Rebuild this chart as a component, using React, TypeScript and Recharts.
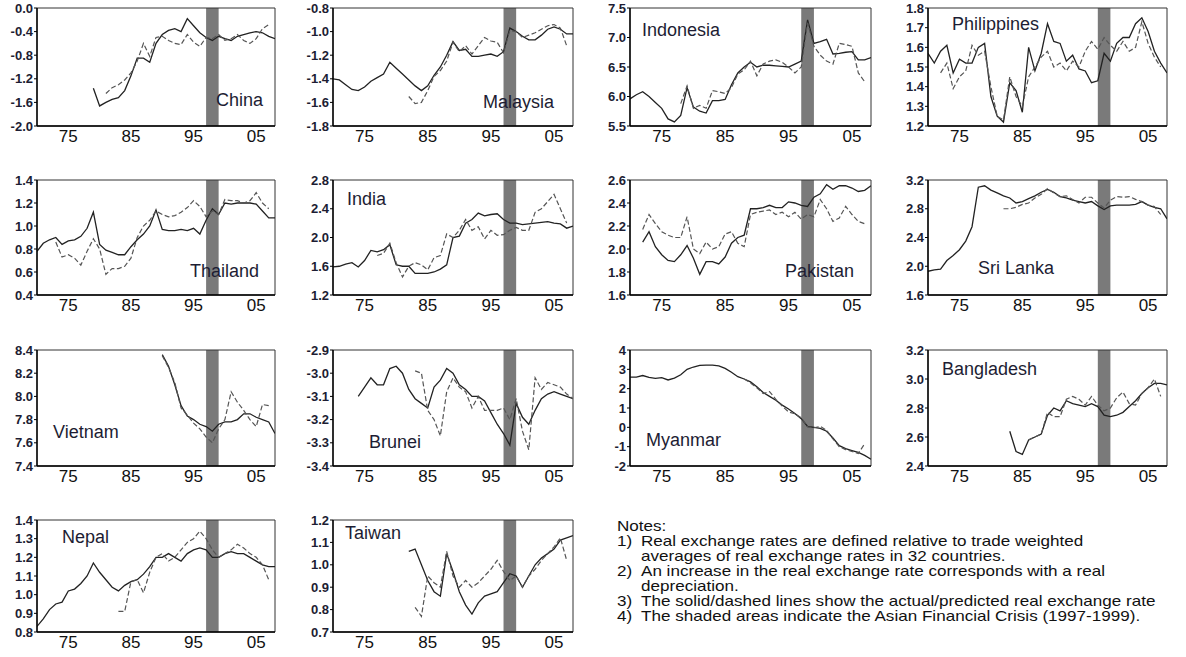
import { LineChart, Line, XAxis, YAxis, ReferenceArea } from "recharts";

const _ = null;

const YEARS = [
  1970, 1971, 1972, 1973, 1974, 1975, 1976, 1977, 1978, 1979,
  1980, 1981, 1982, 1983, 1984, 1985, 1986, 1987, 1988, 1989,
  1990, 1991, 1992, 1993, 1994, 1995, 1996, 1997, 1998, 1999,
  2000, 2001, 2002, 2003, 2004, 2005, 2006, 2007, 2008,
];
const X_TICKS = [1975, 1985, 1995, 2005];
const CRISIS_START = 1997;
const CRISIS_END = 1999;

// actual (solid) and predicted (dashed), one value per year 1970-2008
const CHINA_ACTUAL = [_, _, _, _, _, _, _, _, _, -1.36, -1.66, -1.6, -1.55, -1.52, -1.4, -1.15, -0.85, -0.85, -0.92, -0.6, -0.45, -0.38, -0.35, -0.4, -0.18, -0.3, -0.42, -0.5, -0.55, -0.48, -0.52, -0.55, -0.48, -0.45, -0.42, -0.4, -0.42, -0.48, -0.52];
const CHINA_PRED = [_, _, _, _, _, _, _, _, _, _, _, -1.45, -1.35, -1.3, -1.22, -1.1, -0.9, -0.6, -0.82, -0.5, -0.48, -0.55, -0.6, -0.62, -0.45, -0.58, -0.65, -0.5, -0.52, -0.45, -0.55, -0.52, -0.45, -0.55, -0.6, -0.52, -0.35, -0.28, _];

const MALAYSIA_ACTUAL = [-1.4, -1.41, -1.45, -1.49, -1.5, -1.47, -1.42, -1.39, -1.36, -1.26, -1.31, -1.36, -1.41, -1.46, -1.5, -1.46, -1.37, -1.3, -1.2, -1.085, -1.16, -1.15, -1.21, -1.21, -1.2, -1.19, -1.21, -1.17, -0.97, -1.0, -1.04, -1.07, -1.07, -1.03, -0.98, -0.96, -0.98, -1.02, -1.02];
const MALAYSIA_PRED = [_, _, _, _, _, _, _, _, _, _, _, _, -1.55, -1.61, -1.6, -1.5, -1.38, -1.33, -1.25, -1.09, -1.17, -1.12, -1.19, -1.12, -1.05, -1.08, -1.09, -1.18, -0.99, -1.0, -1.05, -1.03, -1.01, -0.98, -0.95, -0.94, -0.97, -1.12, _];

const INDONESIA_ACTUAL = [5.96, 6.03, 6.08, 6.0, 5.9, 5.8, 5.62, 5.57, 5.68, 6.15, 5.82, 5.75, 5.72, 5.93, 5.93, 5.95, 6.2, 6.4, 6.5, 6.58, 6.5, 6.53, 6.53, 6.52, 6.51, 6.5, 6.55, 6.6, 7.3, 6.9, 6.93, 6.97, 6.72, 6.73, 6.75, 6.76, 6.62, 6.62, 6.66];
const INDONESIA_PRED = [_, _, _, _, _, _, _, _, 5.88, 6.18, 5.8, 5.85, 5.8, 6.1, 6.08, 6.05, 6.15, 6.38, 6.45, 6.6, 6.35, 6.55, 6.6, 6.62, 6.58, 6.5, 6.4, 6.5, 7.25, 6.85, 6.7, 6.6, 6.55, 6.9, 6.88, 6.85, 6.4, 6.25, _];

const PHILIPPINES_ACTUAL = [1.57, 1.52, 1.58, 1.61, 1.47, 1.54, 1.52, 1.52, 1.6, 1.62, 1.35, 1.25, 1.22, 1.42, 1.38, 1.27, 1.6, 1.48, 1.57, 1.72, 1.63, 1.62, 1.53, 1.56, 1.49, 1.48, 1.42, 1.43, 1.57, 1.53, 1.62, 1.65, 1.65, 1.72, 1.75, 1.68, 1.58, 1.52, 1.47];
const PHILIPPINES_PRED = [_, _, 1.47, 1.52, 1.39, 1.45, 1.48, 1.61, 1.56, 1.58, 1.4, 1.25, 1.23, 1.45, 1.35, 1.3, 1.45, 1.5, 1.55, 1.58, 1.5, 1.52, 1.48, 1.53, 1.5, 1.58, 1.63, 1.59, 1.65, 1.61, 1.58, 1.63, 1.58, 1.6, 1.73, 1.62, 1.55, 1.5, _];

const THAILAND_ACTUAL = [0.78, 0.85, 0.88, 0.9, 0.84, 0.87, 0.88, 0.91, 0.98, 1.12, 0.84, 0.79, 0.77, 0.75, 0.75, 0.82, 0.88, 0.93, 1.0, 1.14, 0.97, 0.96, 0.96, 0.97, 0.96, 0.98, 0.93, 1.05, 1.15, 1.1, 1.2, 1.19, 1.2, 1.2, 1.2, 1.19, 1.13, 1.07, 1.07];
const THAILAND_PRED = [_, _, _, 0.86, 0.73, 0.75, 0.72, 0.66, 0.78, 0.89, 0.8, 0.58, 0.63, 0.63, 0.65, 0.72, 0.9, 1.0, 1.05, 1.13, 1.1, 1.08, 1.09, 1.12, 1.16, 1.22, 1.17, 1.08, 1.13, 1.1, 1.23, 1.22, 1.22, 1.2, 1.22, 1.29, 1.2, 1.15, _];

const INDIA_ACTUAL = [1.59, 1.6, 1.63, 1.65, 1.59, 1.68, 1.82, 1.8, 1.83, 1.9, 1.62, 1.6, 1.6, 1.5, 1.5, 1.5, 1.52, 1.56, 1.62, 2.0, 2.02, 2.2, 2.25, 2.34, 2.3, 2.32, 2.33, 2.25, 2.2, 2.2, 2.18, 2.19, 2.2, 2.21, 2.22, 2.2, 2.19, 2.13, 2.16];
const INDIA_PRED = [_, _, _, _, _, _, _, 1.75, 1.78, 1.92, 1.65, 1.45, 1.6, 1.65, 1.62, 1.55, 1.72, 1.75, 2.05, 2.0, 2.1, 2.25, 2.1, 2.15, 1.98, 2.1, 2.03, 2.04, 2.1, 2.14, 2.1, 2.1, 2.35, 2.4, 2.5, 2.6, 2.4, 2.2, _];

const PAKISTAN_ACTUAL = [_, _, 2.06, 2.15, 2.02, 1.95, 1.9, 1.89, 1.95, 2.03, 1.92, 1.78, 1.89, 1.89, 1.87, 1.93, 2.05, 2.1, 2.12, 2.35, 2.35, 2.36, 2.38, 2.36, 2.36, 2.41, 2.4, 2.38, 2.37, 2.45, 2.48, 2.56, 2.52, 2.55, 2.55, 2.53, 2.5, 2.51, 2.55];
const PAKISTAN_PRED = [_, _, 2.17, 2.3, 2.22, 2.15, 2.12, 2.1, 2.1, 2.28, 2.0, 1.96, 2.06, 2.0, 2.02, 2.13, 2.15, 2.05, 2.02, 2.3, 2.32, 2.33, 2.34, 2.3, 2.32, 2.28, 2.32, 2.26, 2.3, 2.28, 2.43, 2.35, 2.24, 2.27, 2.37, 2.3, 2.24, 2.22, _];

const SRILANKA_ACTUAL = [1.93, 1.95, 1.96, 2.08, 2.15, 2.23, 2.35, 2.55, 3.1, 3.12, 3.06, 3.02, 2.98, 2.95, 2.88, 2.9, 2.94, 2.98, 3.03, 3.07, 3.03, 2.97, 2.95, 2.92, 2.9, 2.88, 2.9, 2.84, 2.79, 2.84, 2.85, 2.85, 2.85, 2.86, 2.9, 2.85, 2.82, 2.8, 2.66];
const SRILANKA_PRED = [_, _, _, _, _, _, _, _, _, _, _, _, 2.8, 2.8, 2.82, 2.86, 2.88, 2.95, 3.0, 3.08, 3.02, 2.97, 2.98, 2.93, 2.88, 2.96, 2.96, 2.88, 2.81, 2.92, 2.97, 2.96, 2.97, 2.93, 2.9, 2.85, 2.83, 2.72, _];

const VIETNAM_ACTUAL = [_, _, _, _, _, _, _, _, _, _, _, _, _, _, _, _, _, _, _, _, 8.36, 8.26, 8.1, 7.92, 7.83, 7.8, 7.76, 7.74, 7.7, 7.76, 7.78, 7.78, 7.8, 7.85, 7.85, 7.82, 7.8, 7.78, 7.68];
const VIETNAM_PRED = [_, _, _, _, _, _, _, _, _, _, _, _, _, _, _, _, _, _, _, _, 8.35, 8.25, 8.12, 7.9, 7.84, 7.77, 7.72, 7.65, 7.6, 7.72, 7.8, 8.04, 7.95, 7.88, 7.8, 7.74, 7.93, 7.92, _];

const BRUNEI_ACTUAL = [_, _, _, _, -3.1, -3.06, -3.02, -3.05, -3.05, -2.98, -2.97, -3.0, -3.07, -3.11, -3.13, -3.15, -3.06, -3.03, -2.98, -3.0, -3.05, -3.07, -3.1, -3.1, -3.12, -3.17, -3.22, -3.26, -3.31, -3.13, -3.19, -3.22, -3.16, -3.11, -3.09, -3.08, -3.09, -3.1, -3.11];
const BRUNEI_PRED = [_, _, _, _, _, _, _, _, _, _, _, _, _, -2.99, -3.0, -3.16, -3.2, -3.27, -3.08, -3.02, -3.06, -3.08, -3.15, -3.1, -3.16, -3.16, -3.16, -3.15, -3.2, -3.11, -3.25, -3.33, -3.02, -3.07, -3.04, -3.05, -3.06, -3.09, -3.11];

const MYANMAR_ACTUAL = [2.6, 2.6, 2.68, 2.58, 2.53, 2.57, 2.45, 2.55, 2.72, 3.0, 3.12, 3.2, 3.22, 3.22, 3.18, 3.05, 2.85, 2.62, 2.5, 2.35, 2.1, 1.8, 1.6, 1.4, 1.15, 0.95, 0.72, 0.45, 0.05, 0.0, -0.05, -0.2, -0.55, -0.95, -1.1, -1.2, -1.3, -1.45, -1.65];
const MYANMAR_PRED = [_, _, _, _, _, _, _, _, _, _, _, _, _, _, _, _, _, _, 2.5, 2.3, 2.05, 1.75, 1.85, 1.45, 1.1, 0.8, 0.7, 0.5, 0.02, -0.02, 0.05, -0.15, -0.6, -1.0, -1.15, -1.25, -1.35, -0.85, _];

const BANGLADESH_ACTUAL = [_, _, _, _, _, _, _, _, _, _, _, _, _, 2.64, 2.5, 2.48, 2.58, 2.6, 2.62, 2.75, 2.8, 2.78, 2.85, 2.83, 2.82, 2.81, 2.83, 2.81, 2.75, 2.74, 2.75, 2.77, 2.81, 2.85, 2.9, 2.94, 2.97, 2.97, 2.96];
const BANGLADESH_PRED = [_, _, _, _, _, _, _, _, _, _, _, _, _, _, _, _, 2.58, 2.6, 2.62, 2.77, 2.74, 2.74, 2.86, 2.88, 2.86, 2.82, 2.88, 2.82, 2.78, 2.8, 2.87, 2.91, 2.83, 2.82, 2.9, 2.94, 3.0, 2.88, _];

const NEPAL_ACTUAL = [0.83, 0.87, 0.92, 0.95, 0.96, 1.02, 1.03, 1.06, 1.1, 1.17, 1.12, 1.08, 1.04, 1.02, 1.05, 1.07, 1.08, 1.11, 1.15, 1.2, 1.2, 1.22, 1.2, 1.18, 1.22, 1.24, 1.25, 1.24, 1.2, 1.2, 1.22, 1.23, 1.22, 1.22, 1.2, 1.18, 1.16, 1.15, 1.15];
const NEPAL_PRED = [_, _, _, _, _, _, _, _, _, _, _, _, _, 0.91, 0.91, 1.07, 1.08, 1.01, 1.12, 1.2, 1.22, 1.18, 1.2, 1.24, 1.28, 1.3, 1.34, 1.3, 1.24, 1.2, 1.22, 1.24, 1.27, 1.25, 1.22, 1.2, 1.16, 1.08, _];

const TAIWAN_ACTUAL = [_, _, _, _, _, _, _, _, _, _, _, _, 1.06, 1.07, 1.0, 0.93, 0.88, 0.86, 1.05, 0.97, 0.88, 0.82, 0.78, 0.83, 0.86, 0.87, 0.88, 0.92, 0.96, 0.95, 0.9, 0.95, 1.0, 1.03, 1.05, 1.07, 1.11, 1.12, 1.13];
const TAIWAN_PRED = [_, _, _, _, _, _, _, _, _, _, _, _, _, 0.81, 0.77, 0.95, 0.92, 0.9, 1.06, 0.95, 0.9, 0.93, 0.9, 0.92, 0.95, 0.98, 1.02, 0.97, 0.93, 0.95, 0.9, 0.95, 0.98, 1.02, 1.05, 1.08, 1.12, 1.02, _];

const NOTES = [
  { num: "Notes:", text: "" },
  { num: "1)", text: "Real exchange rates are defined relative to trade weighted" },
  { num: "", text: " averages of real exchange rates in 32 countries." },
  { num: "2)", text: "An increase in the real exchange rate corresponds with a real" },
  { num: "", text: "depreciation." },
  { num: "3)", text: "The solid/dashed lines show the actual/predicted real exchange rate" },
  { num: "4)", text: "The shaded areas indicate the Asian Financial Crisis (1997-1999)." },
];

const FONT = "'Liberation Sans', Arial, Helvetica, sans-serif";
const TEXT_COLOR = "#1d1d33";

// plot box edges on the page
const COLS = [
  { left: 37, right: 275 },
  { left: 333, right: 573 },
  { left: 630, right: 871 },
  { left: 928, right: 1167 },
];
const ROWS = [
  { top: 8, bottom: 126 },
  { top: 180, bottom: 295 },
  { top: 350, bottom: 466 },
  { top: 520, bottom: 632 },
];

const Y_W = 44;
const M_T = 10;
const M_R = 4;
const X_H = 26;

// notes block: the source text is drawn wide
const NOTES_X = 617;
const NOTES_STRETCH = 1.22;

type Panel = {
  name: string;
  actual: (number | null)[];
  predicted: (number | null)[];
  ticks: number[];
  decimals: number;
  col: number;
  row: number;
  labelX: number;
  labelY: number;
};

const PANELS: Panel[] = [
  { name: "China", actual: CHINA_ACTUAL, predicted: CHINA_PRED, ticks: [-2.0, -1.6, -1.2, -0.8, -0.4, 0.0], decimals: 1, col: 0, row: 0, labelX: 216, labelY: 106 },
  { name: "Malaysia", actual: MALAYSIA_ACTUAL, predicted: MALAYSIA_PRED, ticks: [-1.8, -1.6, -1.4, -1.2, -1.0, -0.8], decimals: 1, col: 1, row: 0, labelX: 483, labelY: 108 },
  { name: "Indonesia", actual: INDONESIA_ACTUAL, predicted: INDONESIA_PRED, ticks: [5.5, 6.0, 6.5, 7.0, 7.5], decimals: 1, col: 2, row: 0, labelX: 642, labelY: 36 },
  { name: "Philippines", actual: PHILIPPINES_ACTUAL, predicted: PHILIPPINES_PRED, ticks: [1.2, 1.3, 1.4, 1.5, 1.6, 1.7, 1.8], decimals: 1, col: 3, row: 0, labelX: 952, labelY: 30 },
  { name: "Thailand", actual: THAILAND_ACTUAL, predicted: THAILAND_PRED, ticks: [0.4, 0.6, 0.8, 1.0, 1.2, 1.4], decimals: 1, col: 0, row: 1, labelX: 190, labelY: 277 },
  { name: "India", actual: INDIA_ACTUAL, predicted: INDIA_PRED, ticks: [1.2, 1.6, 2.0, 2.4, 2.8], decimals: 1, col: 1, row: 1, labelX: 347, labelY: 205 },
  { name: "Pakistan", actual: PAKISTAN_ACTUAL, predicted: PAKISTAN_PRED, ticks: [1.6, 1.8, 2.0, 2.2, 2.4, 2.6], decimals: 1, col: 2, row: 1, labelX: 785, labelY: 277 },
  { name: "Sri Lanka", actual: SRILANKA_ACTUAL, predicted: SRILANKA_PRED, ticks: [1.6, 2.0, 2.4, 2.8, 3.2], decimals: 1, col: 3, row: 1, labelX: 978, labelY: 274 },
  { name: "Vietnam", actual: VIETNAM_ACTUAL, predicted: VIETNAM_PRED, ticks: [7.4, 7.6, 7.8, 8.0, 8.2, 8.4], decimals: 1, col: 0, row: 2, labelX: 53, labelY: 438 },
  { name: "Brunei", actual: BRUNEI_ACTUAL, predicted: BRUNEI_PRED, ticks: [-3.4, -3.3, -3.2, -3.1, -3.0, -2.9], decimals: 1, col: 1, row: 2, labelX: 369, labelY: 448 },
  { name: "Myanmar", actual: MYANMAR_ACTUAL, predicted: MYANMAR_PRED, ticks: [-2, -1, 0, 1, 2, 3, 4], decimals: 0, col: 2, row: 2, labelX: 646, labelY: 446 },
  { name: "Bangladesh", actual: BANGLADESH_ACTUAL, predicted: BANGLADESH_PRED, ticks: [2.4, 2.6, 2.8, 3.0, 3.2], decimals: 1, col: 3, row: 2, labelX: 942, labelY: 375 },
  { name: "Nepal", actual: NEPAL_ACTUAL, predicted: NEPAL_PRED, ticks: [0.8, 0.9, 1.0, 1.1, 1.2, 1.3, 1.4], decimals: 1, col: 0, row: 3, labelX: 62, labelY: 543 },
  { name: "Taiwan", actual: TAIWAN_ACTUAL, predicted: TAIWAN_PRED, ticks: [0.7, 0.8, 0.9, 1.0, 1.1, 1.2], decimals: 1, col: 1, row: 3, labelX: 345, labelY: 539 },
];

function CountryChart({ p }: { p: Panel }) {
  const col = COLS[p.col];
  const row = ROWS[p.row];
  const plotW = col.right - col.left;
  const plotH = row.bottom - row.top;
  const yMin = p.ticks[0];
  const yMax = p.ticks[p.ticks.length - 1];
  const data = YEARS.map((year, i) => ({ year, actual: p.actual[i], predicted: p.predicted[i] }));

  return (
    <div style={{ position: "absolute", left: col.left - Y_W, top: row.top - M_T }}>
      <LineChart
        width={Y_W + plotW + M_R}
        height={M_T + plotH + X_H}
        data={data}
        margin={{ top: M_T, right: M_R, bottom: 0, left: 0 }}
      >
        <ReferenceArea x1={CRISIS_START} x2={CRISIS_END} y1={yMin} y2={yMax} fill="#7a7a7a" fillOpacity={1} stroke="none" />
        <ReferenceArea x1={YEARS[0]} x2={YEARS[YEARS.length - 1]} y1={yMin} y2={yMax} fill="none" stroke="#333" strokeWidth={1} />
        <XAxis
          dataKey="year"
          type="number"
          domain={[YEARS[0], YEARS[YEARS.length - 1]]}
          ticks={X_TICKS}
          interval={0}
          allowDataOverflow
          tickFormatter={(v: number) => String(v).slice(2)}
          height={X_H}
          tickSize={0}
          tickMargin={4}
          tickLine={false}
          axisLine={{ stroke: "#000", strokeWidth: 1.4 }}
          tick={{ fontSize: 17, fill: "#111", fontFamily: FONT }}
        />
        <YAxis
          type="number"
          domain={[yMin, yMax]}
          ticks={p.ticks}
          interval={0}
          allowDataOverflow
          tickFormatter={(v: number) => v.toFixed(p.decimals)}
          width={Y_W}
          tickSize={3}
          tickMargin={1}
          tickLine={{ stroke: "#000" }}
          axisLine={{ stroke: "#000", strokeWidth: 1.4 }}
          tick={{ fontSize: 13, fontWeight: 700, fill: TEXT_COLOR, fontFamily: FONT }}
        />
        <Line type="linear" dataKey="actual" stroke="#222" strokeWidth={1.3} dot={false} isAnimationActive={false} connectNulls={false} />
        <Line type="linear" dataKey="predicted" stroke="#555" strokeWidth={1.2} strokeDasharray="5 2.5" dot={false} isAnimationActive={false} connectNulls={false} />
      </LineChart>
    </div>
  );
}

export default function App() {
  return (
    <div style={{ position: "absolute", left: 0, top: 0, width: 1186, height: 657, background: "#fff", fontFamily: FONT }}>
      {PANELS.map((p) => (
        <CountryChart key={p.name} p={p} />
      ))}
      <svg width={1186} height={657} style={{ position: "absolute", left: 0, top: 0, pointerEvents: "none" }}>
        {PANELS.map((p) => (
          <text key={p.name} x={p.labelX} y={p.labelY} fontSize={18} fill={TEXT_COLOR} fontFamily={FONT}>
            {p.name}
          </text>
        ))}
        <g transform={`translate(${NOTES_X} 0) scale(${NOTES_STRETCH} 1)`} fontSize={14} fill="#111" fontFamily={FONT}>
          {NOTES.map((n, i) => (
            <g key={i}>
              {n.num && <text x={0} y={531 + i * 15}>{n.num}</text>}
              {n.text && <text x={24 / NOTES_STRETCH} y={531 + i * 15}>{n.text}</text>}
            </g>
          ))}
        </g>
      </svg>
    </div>
  );
}
